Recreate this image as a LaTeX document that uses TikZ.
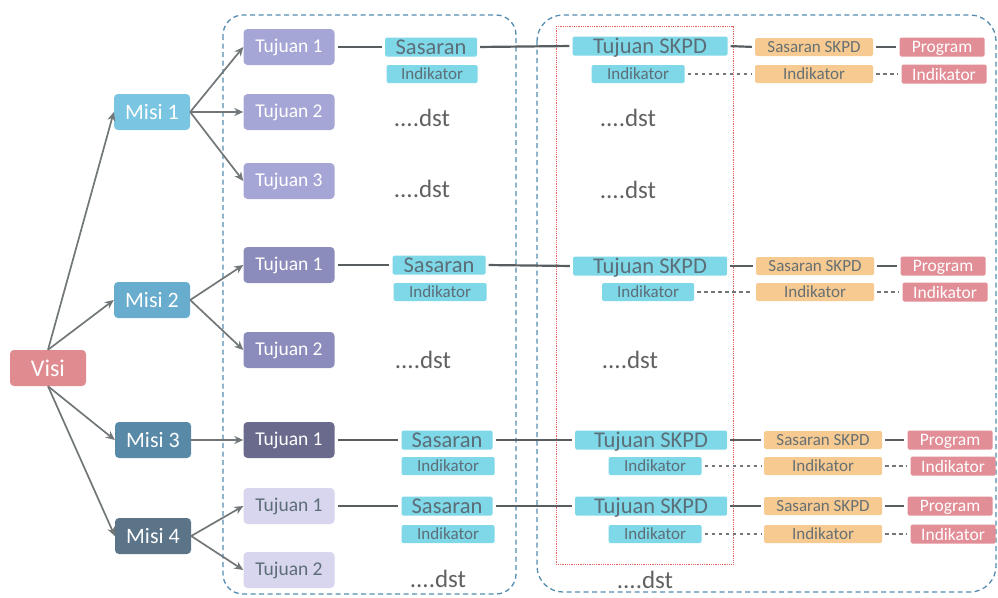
\documentclass[tikz,border=0pt]{standalone}
\usepackage{fontspec}
\setmainfont{Carlito}
\definecolor{vsred}{RGB}{224,139,143}
\definecolor{msone}{RGB}{122,197,226}
\definecolor{mstwo}{RGB}{104,172,206}
\definecolor{msthree}{RGB}{88,138,168}
\definecolor{msfour}{RGB}{92,116,136}
\definecolor{tjone}{RGB}{166,166,214}
\definecolor{tjtwo}{RGB}{140,140,188}
\definecolor{tjthree}{RGB}{106,106,140}
\definecolor{tjfour}{RGB}{216,213,238}
\definecolor{skcyan}{RGB}{126,216,232}
\definecolor{skorange}{RGB}{247,202,145}
\definecolor{skpink}{RGB}{226,142,151}
\definecolor{txgray}{RGB}{92,110,120}
\definecolor{lngray}{RGB}{88,94,96}
\definecolor{grpblue}{RGB}{84,140,176}
\definecolor{grpred}{RGB}{226,96,96}
\usetikzlibrary{arrows.meta,positioning}

\tikzset{
  box/.style={rounded corners=4pt, minimum width=76pt, minimum height=36pt, inner sep=0pt, text=white},
  misibox/.style={box, font=\fontsize{22}{24}\selectfont},
  tjbox/.style={box, minimum width=91pt, font=\fontsize{19.5}{21}\selectfont},
  cybox/.style={fill=skcyan, rounded corners=1.5pt, inner sep=0pt, text depth=0pt, minimum height=19pt, text=txgray},
  orbox/.style={fill=skorange, rounded corners=1.5pt, inner sep=0pt, text depth=0pt, minimum width=118pt, minimum height=18pt, text=txgray!90!brown, font=\fontsize{17}{18}\selectfont},
  pkbox/.style={fill=skpink, rounded corners=1.5pt, inner sep=0pt, text depth=0pt, minimum width=85pt, minimum height=19pt, text=white, font=\fontsize{17.5}{18}\selectfont},
  bigcy/.style={cybox, font=\fontsize{22.5}{24}\selectfont},
  smallcy/.style={cybox, minimum width=92pt, minimum height=18pt, font=\fontsize{17}{18}\selectfont},
  dst/.style={text=black!62, font=\fontsize{25}{27}\selectfont},
  arr/.style={-{Stealth[length=9pt,width=8pt]}, line width=1.7pt, draw=lngray!85},
  link/.style={line width=2.2pt, draw=lngray, shorten <=3pt, shorten >=3pt},
  dlink/.style={dash pattern=on 3.5pt off 3.5pt, line width=1.2pt, draw=lngray!85, shorten <=3pt, shorten >=3pt},
  grp/.style={draw=grpblue, line width=1.3pt, dash pattern=on 5pt off 3.5pt}
}

\begin{document}
\begin{tikzpicture}[x=1pt, y=-1pt]
  \useasboundingbox (0,0) rectangle (998,597);
  % Groups
  \draw[grp, rounded corners=20pt] (223,15) rectangle (516,594);
  \draw[grp, rounded corners=26pt] (537,15) rectangle (996,592);
  \draw[draw=grpred, densely dotted, line width=0.8pt] (556,26) rectangle (733,564);
  % Visi and Misi
  \node[box, fill=vsred, font=\fontsize{24}{26}\selectfont] (visi) at (48,368) {Visi};
  \node[misibox, fill=msone] (m1) at (152,112) {Misi 1};
  \node[misibox, fill=mstwo] (m2) at (152,300) {Misi 2};
  \node[misibox, fill=msthree] (m3) at (153,440) {Misi 3};
  \node[misibox, fill=msfour] (m4) at (153,536) {Misi 4};
  \draw[arr] (visi.north) -- (m1.west);
  \draw[arr] (visi.north) -- (m2.west);
  \draw[arr] (visi.south) -- (m3.west);
  \draw[arr] (visi.south) -- (m4.west);
  % Tujuan
  \node[tjbox, fill=tjone] (t11) at (289,47) {Tujuan 1};
  \node[tjbox, fill=tjone] (t12) at (289,112) {Tujuan 2};
  \node[tjbox, fill=tjone] (t13) at (289,181) {Tujuan 3};
  \node[tjbox, fill=tjtwo] (t21) at (289,265) {Tujuan 1};
  \node[tjbox, fill=tjtwo] (t22) at (289,350) {Tujuan 2};
  \node[tjbox, fill=tjthree] (t31) at (289,440) {Tujuan 1};
  \node[tjbox, fill=tjfour, text=txgray] (t41) at (289,506) {Tujuan 1};
  \node[tjbox, fill=tjfour, text=txgray] (t42) at (289,570) {Tujuan 2};
  \foreach \m/\t in {m1/t11, m1/t12, m1/t13, m2/t21, m2/t22, m3/t31, m4/t41, m4/t42}
    \draw[arr] (\m.east) -- (\t.west);
  % Sasaran
  \node[bigcy, minimum width=92pt] (s11) at (431,47) {Sasaran};
  \node[smallcy, minimum width=91pt] (i11) at (432,74) {Indikator};
  \node[dst] (d12) at (422,118) {....dst};
  \node[dst] (d13) at (422,189) {....dst};
  \node[bigcy, minimum width=93pt] (s21) at (439,265) {Sasaran};
  \node[smallcy, minimum width=93pt] (i21) at (440,292) {Indikator};
  \node[dst] (d22) at (423,360) {....dst};
  \node[bigcy, minimum width=91pt] (s31) at (447,440) {Sasaran};
  \node[smallcy, minimum width=93pt] (i31) at (448,466) {Indikator};
  \node[bigcy, minimum width=91pt] (s41) at (447,506) {Sasaran};
  \node[smallcy, minimum width=93pt] (i41) at (448,534) {Indikator};
  \node[dst] (d42) at (438,579) {....dst};
  % Tujuan SKPD
  \node[bigcy, minimum width=155pt] (ts1) at (650,46) {Tujuan SKPD};
  \node[smallcy, minimum width=93pt] (it1) at (638,74) {Indikator};
  \node[dst] (e12) at (628,118) {....dst};
  \node[dst] (e13) at (628,190) {....dst};
  \node[bigcy, minimum width=154pt] (ts2) at (650,266) {Tujuan SKPD};
  \node[smallcy, minimum width=92pt] (it2) at (648,292) {Indikator};
  \node[dst] (e22) at (630,360) {....dst};
  \node[bigcy, minimum width=152pt] (ts3) at (651,440) {Tujuan SKPD};
  \node[smallcy, minimum width=93pt] (it3) at (655,466) {Indikator};
  \node[bigcy, minimum width=152pt] (ts4) at (651,506) {Tujuan SKPD};
  \node[smallcy, minimum width=93pt] (it4) at (655,534) {Indikator};
  \node[dst] (e42) at (645,580) {....dst};
  % Sasaran SKPD and Program
  \node[orbox] (ss1) at (814,47) {Sasaran SKPD};
  \node[orbox] (io1) at (814,74) {Indikator};
  \node[orbox] (ss2) at (815,266) {Sasaran SKPD};
  \node[orbox] (io2) at (815,292) {Indikator};
  \node[orbox] (ss3) at (823,440) {Sasaran SKPD};
  \node[orbox] (io3) at (823,466) {Indikator};
  \node[orbox] (ss4) at (823,506) {Sasaran SKPD};
  \node[orbox] (io4) at (823,534) {Indikator};
  \node[pkbox] (p1) at (942,47) {Program};
  \node[pkbox] (ir1) at (944,74) {Indikator};
  \node[pkbox] (p2) at (943,266) {Program};
  \node[pkbox] (ir2) at (945,292) {Indikator};
  \node[pkbox] (p3) at (950,440) {Program};
  \node[pkbox] (ir3) at (953,466) {Indikator};
  \node[pkbox] (p4) at (950,506) {Program};
  \node[pkbox] (ir4) at (953,534) {Indikator};
  % Connectors
  \foreach \r in {1,2,3,4}{
    \draw[link] (t\r1.east) -- (s\r1.west);
    \draw[link] (s\r1.east) -- (ts\r.west);
    \draw[link] (ts\r.east) -- (ss\r.west);
    \draw[link] (ss\r.east) -- (p\r.west);
    \draw[dlink] (it\r.east) -- (io\r.west);
    \draw[dlink] (io\r.east) -- (ir\r.west);
  }
\end{tikzpicture}
\end{document}
